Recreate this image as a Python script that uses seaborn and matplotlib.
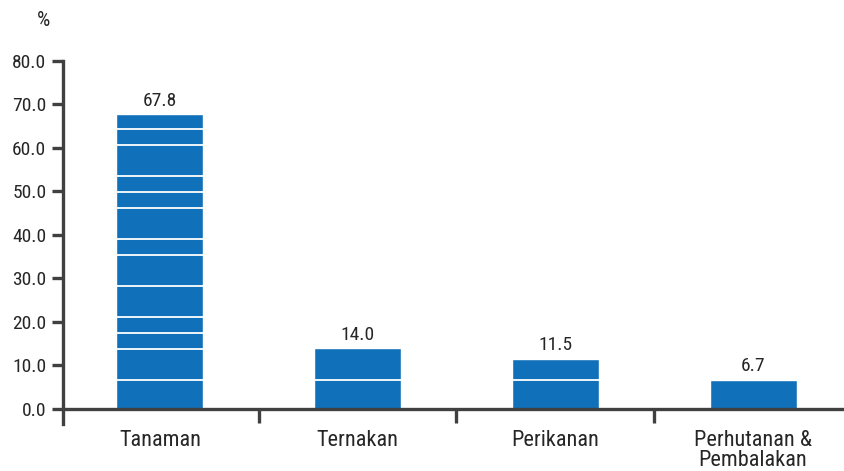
import numpy as np
import pandas as pd
import seaborn as sns
import matplotlib.pyplot as plt

categories = ["Tanaman", "Ternakan", "Perikanan", "Perhutanan &\nPembalakan"]
values = [67.8, 14.0, 11.5, 6.7]
# white divider lines seen inside each bar (segment sizes, bottom to top)
segments = [
    [6.7, 7.1, 3.7, 3.6, 7.2, 7.1, 3.6, 7.3, 3.6, 3.6, 7.2, 3.6, 3.5],
    [6.7, 7.3],
    [6.7, 4.8],
    [6.7],
]
yticks = [0, 10, 20, 30, 40, 50, 60, 70, 80]

sns.set_style("white")
plt.rcParams['font.family'] = ['Roboto Condensed', 'Liberation Sans Narrow', 'DejaVu Sans']

dark = "#404040"
blue = "#1170BA"
txt = "#262626"

fig = plt.figure(figsize=(8.44, 4.71), dpi=100)
ax = fig.add_axes([63 / 844, 1 - 424 / 471, 1 - 63 / 844, (424 - 61) / 471])

df = pd.DataFrame({"cat": categories, "val": values})
sns.barplot(data=df, x="cat", y="val", color=blue, saturation=1, width=0.44, ax=ax)

# divider lines and value labels
for patch, segs, v in zip(ax.patches, segments, values):
    x0, w = patch.get_x(), patch.get_width()
    cuts = np.cumsum(segs)[:-1]
    if len(cuts):
        ax.hlines(cuts, x0, x0 + w, colors="white", linewidth=1.3)
    ax.text(x0 + w / 2, v + 1.0, f"{v:.1f}", ha="center", va="bottom",
            fontsize=14, color=txt)

ax.set_xlim(-0.49, 3.46)
ax.set_ylim(-3.5, 80)
ax.set_yticks(yticks)
ax.set_yticklabels([f"{t:.1f}" for t in yticks])
ax.set_xticks(range(len(categories)))
ax.set_xticklabels(categories)
ax.set_xticks([0.5, 1.5, 2.5], minor=True)
ax.set_xlabel("")
ax.set_ylabel("")

for s in ["top", "right"]:
    ax.spines[s].set_visible(False)
ax.spines["left"].set_color(dark)
ax.spines["left"].set_linewidth(2.4)
ax.spines["bottom"].set_position(("data", 0))
ax.spines["bottom"].set_color(dark)
ax.spines["bottom"].set_linewidth(2.4)

ax.tick_params(axis="y", which="major", left=True, length=8, width=2.4, color=dark,
               labelsize=14, labelcolor=txt, pad=4)
ax.tick_params(axis="x", which="major", bottom=True, length=0, labelsize=16,
               labelcolor=txt, pad=15)
ax.tick_params(axis="x", which="minor", bottom=True, length=10, width=2.4, color=dark)
for lab in ax.get_xticklabels():
    lab.set_linespacing(0.95)

fig.text(43 / 844, 1 - 21 / 471, "%", ha="center", va="center", fontsize=15, color=txt)

fig.savefig("out.png", dpi=100)
